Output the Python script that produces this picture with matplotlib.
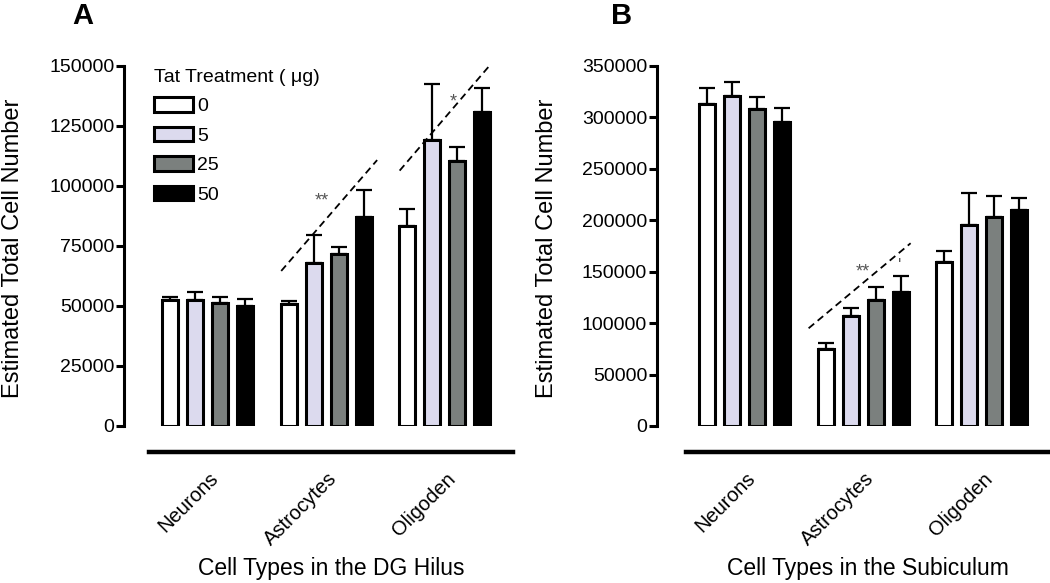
import numpy as np
import matplotlib
matplotlib.use("Agg")
import matplotlib.pyplot as plt
from matplotlib.patches import Patch
from matplotlib import ticker, transforms

plt.rcParams['font.family'] = ['Liberation Sans', 'DejaVu Sans']

# ---------------- data ----------------
cell_types = ["Neurons", "Astrocytes", "Oligoden"]
doses = ["0", "5", "25", "50"]
colors = ["#ffffff", "#dcdaee", "#7b807e", "#000000"]

# DG Hilus (panel A): rows = cell type, cols = dose
hilus_mean = [[52300, 52500, 51200, 50000],
              [50700, 68000, 71500, 87200],
              [83300, 119000, 110400, 130700]]
hilus_err = [[1500, 3500, 2400, 3000],
             [1300, 11500, 3200, 11000],
             [7200, 23400, 5800, 10000]]

# Subiculum (panel B)
subic_mean = [[312800, 321000, 307900, 295600],
              [74600, 107200, 122500, 130600],
              [159700, 195400, 202900, 209700]]
subic_err = [[15800, 13700, 12000, 13300],
             [6400, 7800, 12900, 15500],
             [10700, 30800, 20400, 12300]]

# significance annotations: (x0, y0, x1, y1) dashed lines, star texts
hilus_lines = [(0.62, 64600, 1.43, 110800), (1.62, 106400, 2.42, 152500)]
hilus_stars = [("**", 0.96, 93700), ("*", 2.07, 135000)]
subic_lines = [(0.54, 95000, 1.40, 177700)]
subic_stars = [("**", 1.00, 150000), ("'", 1.31, 155000)]


fig = plt.figure(figsize=(10.5, 5.83), dpi=100)

px = 72 / 100.0  # points per pixel


def panel(rect, means, errs, ymax, ystep, xlabel, yspine_px, ylab_x,
          lines, stars, letter, letter_x, legend=False):
    ax = fig.add_axes(rect)
    means = np.asarray(means)
    errs = np.asarray(errs)
    centers = np.arange(len(cell_types))
    pitch = 0.211
    width = 0.135
    for j in range(len(doses)):
        xs = centers + (j - 1.5) * pitch
        ax.errorbar(xs, means[:, j], yerr=[np.zeros(3), errs[:, j]],
                    fmt='none', ecolor='black', elinewidth=1.6,
                    capsize=5.5, capthick=1.6, zorder=1)
        ax.bar(xs, means[:, j], width=width, color=colors[j],
               edgecolor='black', linewidth=2.2, zorder=2, label=doses[j])

    for (x0, y0, x1, y1) in lines:
        ax.plot([x0, x1], [y0, y1], color='black', lw=1.3,
                dashes=(4, 2.5), zorder=3)
    for s, x, y in stars:
        ax.text(x, y, s, ha='center', va='center', fontsize=13,
                color='#555555')

    ax.set_xlim(-0.494, 2.575)
    ax.set_ylim(0, ymax)
    ax.set_yticks(np.arange(0, ymax + 1, ystep))
    ax.yaxis.set_major_formatter(ticker.FormatStrFormatter('%d'))
    ax.tick_params(axis='y', labelsize=14, length=6 * px * 1.4,
                   width=2.2, direction='out', pad=1)
    ax.set_xticks([])

    for s in ['top', 'right']:
        ax.spines[s].set_visible(False)
    ax.spines['left'].set_position(('outward', yspine_px * px))
    ax.spines['left'].set_linewidth(2.2)
    ax.spines['bottom'].set_position(('outward', 26 * px))
    ax.spines['bottom'].set_linewidth(3.2)

    trans = transforms.blended_transform_factory(ax.transData, ax.transAxes)
    for c, name in zip(centers, cell_types):
        ax.text(c + 0.065, -0.138, name, transform=trans, rotation=45,
                ha='right', va='center', rotation_mode='anchor',
                fontsize=14.5)

    ax.text(0.5, -0.395, xlabel, transform=ax.transAxes, ha='center',
            va='center', fontsize=16.5)
    ax.set_ylabel("Estimated Total Cell Number", fontsize=17)
    ax.yaxis.set_label_coords(ylab_x, 0.493)

    fig.text(letter_x, 0.9726, letter, fontsize=21, fontweight='bold',
             ha='center', va='center')

    if legend:
        handles = [Patch(facecolor=c, edgecolor='black', linewidth=2.2)
                   for c in colors]
        ax.legend(handles, doses, loc='upper left',
                  bbox_to_anchor=(-0.024, 1.03), frameon=False,
                  title="Tat Treatment ( \u03bcg)", alignment='left',
                  fontsize=14, title_fontsize=14, handlelength=2.0,
                  handleheight=0.8, handletextpad=0.2,
                  labelspacing=0.58, borderpad=0.2)
    return ax


panel([0.1422, 0.2693, 0.3461, 0.6175], hilus_mean, hilus_err, 150000,
      25000, "Cell Types in the DG Hilus", 25, -0.345,
      hilus_lines, hilus_stars, "A", 0.079, legend=True)
panel([0.6533, 0.2693, 0.3467, 0.6175], subic_mean, subic_err, 350000,
      50000, "Cell Types in the Subiculum", 29, -0.352,
      subic_lines, subic_stars, "B", 0.592)

plt.savefig("out.png", dpi=100)
